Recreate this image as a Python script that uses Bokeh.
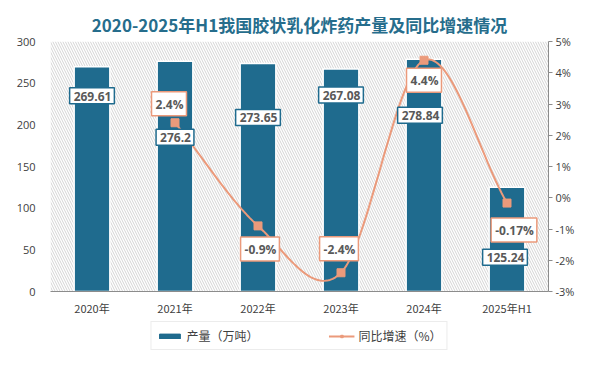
from bokeh.plotting import figure
from bokeh.layouts import column
from bokeh.models import (LinearAxis, Range1d, FixedTicker, ColumnDataSource, Legend, LegendItem,
                          BoxAnnotation)
from bokeh.core.properties import value
from bokeh.embed import file_html
from bokeh.resources import INLINE

categories = ["2020年", "2021年", "2022年", "2023年", "2024年", "2025年H1"]
production = [269.61, 276.2, 273.65, 267.08, 278.84, 125.24]
growth = [None, 2.4, -0.9, -2.4, 4.4, -0.17]
prod_labels = ["269.61", "276.2", "273.65", "267.08", "278.84", "125.24"]
growth_labels = ["2.4%", "-0.9%", "-2.4%", "4.4%", "-0.17%"]
left_ticks = [0, 50, 100, 150, 200, 250, 300]
right_ticks = [-3, -2, -1, 0, 1, 2, 3, 4, 5]
series_names = ["产量（万吨）", "同比增速（%）"]

# label offsets (pixels) - layout only
prod_dx = [0, 0, 0, 0, -4, -2]
prod_dy = [29, 76, 54, 26, 56, 70]
gr_dx = [-6, 2, -2, 0, 7]
gr_dy = [-19, 23, -24, 20, 27]

BAR = "#1f6b8e"
LINE = "#eb9a7b"
TXT = "#595959"

xs = list(range(len(categories)))
p = figure(frame_width=498, frame_height=250, output_backend="svg", toolbar_location=None,
           x_range=Range1d(-0.5, len(categories) - 0.5), y_range=Range1d(0, 300),
           min_border_left=50, min_border_right=33, min_border_top=41, min_border_bottom=20)
p.outline_line_color = None
p.border_fill_color = "white"
p.background_fill_color = "white"
p.xgrid.visible = False
p.ygrid.visible = False

p.title.text = "2020-2025年H1我国胶状乳化炸药产量及同比增速情况"
p.title.align = "center"
p.title.text_font = "Noto Sans CJK SC"
p.title.text_font_size = "17px"
p.title.text_font_style = "bold"
p.title.text_color = "#266d8c"

p.extra_y_ranges = {"pct": Range1d(-3, 5)}

hatch = BoxAnnotation(fill_alpha=0, line_alpha=0, hatch_pattern="\\", hatch_color="#d4d4d4",
                      hatch_scale=5, hatch_weight=1, level="underlay")
p.add_layout(hatch)

src = ColumnDataSource(dict(x=xs, top=production, lab=prod_labels, dx=prod_dx, dy=prod_dy))
bars = p.vbar(x="x", top="top", width=0.43, source=src, fill_color=BAR, line_color="white", line_width=1.5)

# smooth line (Catmull-Rom / Excel-like smoothing) through the growth points
gx = [x for x, g in zip(xs, growth) if g is not None]
gy = [g for g in growth if g is not None]
sx, sy = [], []
n = len(gx)
for i in range(n - 1):
    p0 = (gx[i], gy[i]); p1 = (gx[i + 1], gy[i + 1])
    pm = (gx[i - 1], gy[i - 1]) if i > 0 else p0
    pp = (gx[i + 2], gy[i + 2]) if i + 2 < n else p1
    m0 = ((p1[0] - pm[0]) / 2, (p1[1] - pm[1]) / 2) if i > 0 else (p1[0] - p0[0], p1[1] - p0[1])
    m1 = ((pp[0] - p0[0]) / 2, (pp[1] - p0[1]) / 2) if i + 2 < n else (p1[0] - p0[0], p1[1] - p0[1])
    for k in range(30):
        t = k / 30
        h00 = 2 * t**3 - 3 * t**2 + 1; h10 = t**3 - 2 * t**2 + t
        h01 = -2 * t**3 + 3 * t**2; h11 = t**3 - t**2
        sx.append(h00 * p0[0] + h10 * m0[0] + h01 * p1[0] + h11 * m1[0])
        sy.append(h00 * p0[1] + h10 * m0[1] + h01 * p1[1] + h11 * m1[1])
sx.append(gx[-1]); sy.append(gy[-1])
line = p.line(sx, sy, y_range_name="pct", line_color=LINE, line_width=2)
gsrc = ColumnDataSource(dict(x=gx, y=gy, lab=growth_labels, dx=gr_dx, dy=gr_dy))
marks = p.scatter("x", "y", source=gsrc, y_range_name="pct", marker="square", size=8,
                  fill_color=LINE, line_color=LINE)

p.text(x="x", y="top", text="lab", x_offset="dx", y_offset="dy", source=src,
       text_align="center", text_baseline="middle", text_font=value("Open Sans"),
       text_font_size="12px", text_font_style="bold", text_color=TXT,
       background_fill_color="white", border_line_color=BAR, border_line_width=1.5,
       padding=[4, 3, 4, 3])
p.text(x="x", y="y", text="lab", x_offset="dx", y_offset="dy", source=gsrc, y_range_name="pct",
       text_align="center", text_baseline="middle", text_font=value("Open Sans"),
       text_font_size="12px", text_font_style="bold", text_color=TXT,
       background_fill_color="white", border_line_color=LINE, border_line_width=1.5,
       padding=[4, 3, 4, 3])

# axes
p.xaxis.ticker = FixedTicker(ticks=xs)
p.xaxis.major_label_overrides = {i: c for i, c in enumerate(categories)}
p.xaxis.axis_line_color = "#8c8c8c"
p.xaxis.major_tick_line_color = None
p.xaxis.minor_tick_line_color = None
p.xaxis.major_label_text_font = "Noto Sans CJK SC"
p.xaxis.major_label_text_font_size = "11px"
p.xaxis.major_label_text_color = "#404040"
p.xaxis.major_label_standoff = 2

p.yaxis.ticker = FixedTicker(ticks=left_ticks)
p.yaxis.axis_line_color = None
p.yaxis.major_tick_line_color = None
p.yaxis.minor_tick_line_color = None
p.yaxis.major_label_text_font = "Open Sans"
p.yaxis.major_label_text_font_size = "11px"
p.yaxis.major_label_text_color = "#404040"
p.yaxis.major_label_standoff = 9

ra = LinearAxis(y_range_name="pct", ticker=FixedTicker(ticks=right_ticks))
ra.major_label_overrides = {t: f"{t}%" for t in right_ticks}
ra.axis_line_color = "#8c8c8c"
ra.major_tick_line_color = "#8c8c8c"
ra.major_tick_out = 4
ra.major_tick_in = 0
ra.minor_tick_line_color = None
ra.major_label_text_font = "Open Sans"
ra.major_label_text_font_size = "11px"
ra.major_label_text_color = "#404040"
ra.major_label_standoff = 3
p.add_layout(ra, "right")

# legend strip: a small figure whose ranges hide its copies of the series,
# so only the library-drawn legend shows
lf = figure(width=581, height=40, output_backend="svg", toolbar_location=None,
            x_range=Range1d(-0.5, len(categories) - 0.5), y_range=Range1d(1000, 1001),
            min_border_left=0, min_border_right=0, min_border_top=0, min_border_bottom=0)
lf.axis.visible = False
lf.grid.visible = False
lf.outline_line_color = None
lf.border_fill_color = "white"
lf.background_fill_color = "white"
lb = lf.vbar(x=xs, top=production, width=0.43, fill_color=BAR, line_color=BAR)
ll = lf.line(x=gx, y=gy, line_color=LINE, line_width=2)
lm = lf.scatter(x=gx, y=gy, marker="square", size=8, fill_color=LINE, line_color=LINE)
legend = Legend(items=[LegendItem(label=series_names[0], renderers=[lb]),
                       LegendItem(label=series_names[1], renderers=[ll, lm])],
                orientation="horizontal", location="top_center",
                label_text_font="Noto Sans CJK SC", label_text_font_size="12px",
                label_text_color="#404040", border_line_color="#d9d9d9", border_line_width=1,
                glyph_width=26, glyph_height=6, spacing=70, padding=5, margin=3,
                label_standoff=4, label_height=14, background_fill_alpha=1)
lf.add_layout(legend)

layout = column(p, lf, spacing=0)
open("out.html", "w").write(file_html(layout, INLINE))
